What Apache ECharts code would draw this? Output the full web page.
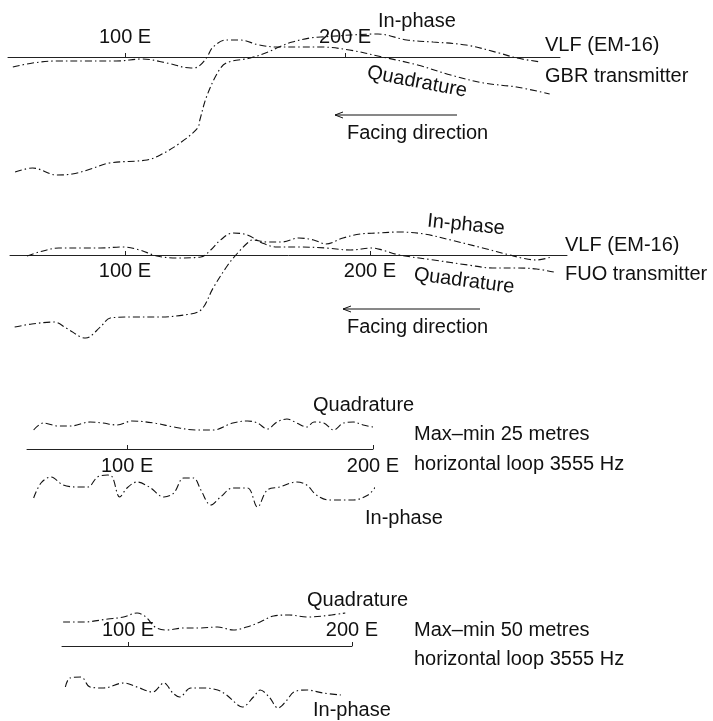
<!DOCTYPE html>
<html>
<head>
<meta charset="utf-8">
<script src="https://cdn.jsdelivr.net/npm/echarts@6/dist/echarts.min.js"></script>
<style>html,body{margin:0;padding:0;background:#fff;}#chart{width:713px;height:721px;}</style>
</head>
<body>
<div id="chart"></div>
<script>
// ---- Data: [station (m E), response (arbitrary %)] ----
// Panel 1: VLF (EM-16), GBR transmitter
const gbrQuadrature = [[49,-5],[58,-3],[69,-2],[81,-2],[96,-2],[108,-1],[119,-3],[130,-5.5],[133,-5],[137,-0.5],[140,5],[146,8.5],[152,8.5],[161,6],[169,5],[180,5],[189,5],[202,3.5],[217,0],[233,-4],[248,-9],[263,-13],[278,-15],[293,-18.5]];
const gbrInphase = [[50,-57.5],[58,-55.5],[69,-59],[76,-58.5],[83,-56.5],[93,-53],[110,-51.5],[116,-49],[125,-43],[133,-35.5],[134,-31.5],[137,-20],[142,-8],[146,-3],[157,-0.5],[165,2.5],[170,5],[176,7.5],[184,9.5],[189,10],[215,11.5],[228,8.5],[240,7.5],[255,6],[270,2],[278,-0.5],[289,-2.5]];
// Panel 2: VLF (EM-16), FUO transmitter
const fuoQuadrature = [[60,-0.5],[65,1.5],[73,3.5],[83,3.5],[90,3.5],[99,4],[106,2.5],[113,-0.5],[121,-1.5],[131,-1],[135,2.5],[139,7.5],[144,11],[150,10],[156,6],[162,4],[171,4],[182,3.5],[192,2.5],[201,3.5],[205,2.5],[212,0],[226,-2.5],[240,-5],[250,-6.5],[260,-6.5],[268,-7],[275,-8.5]];
const fuoInphase = [[55,-36],[62,-34.5],[71,-33.5],[76,-36.5],[82,-41],[84,-41.5],[90,-36],[94,-31.5],[103,-31],[114,-31],[124,-30],[131,-27.5],[136,-16.5],[142,-5],[146,1],[150,6],[152,7.5],[158,6.5],[164,6.5],[171,8.5],[177,7.5],[182,5.5],[189,8.5],[196,10.5],[203,11],[212,11.5],[222,10.5],[233,7.5],[246,3.5],[257,0],[262,-1.5],[268,-2.5],[274,-1]];
// Panel 3: Max-min 25 m horizontal loop 3555 Hz
const mm25Quadrature = [[62,9.5],[66,13],[72,11.5],[77,11.5],[85,13.5],[90,13],[96,12],[102,14],[111,13],[119,11],[128,9.5],[135,9.5],[143,13],[149,14],[153,13],[157,10],[161,13.5],[165,15],[169,13],[173,11],[176,13.5],[180,13],[184,9.5],[188,13],[192,13.5],[196,12],[200,11]];
const mm25Inphase = [[62,-24.5],[65,-17],[69,-14],[74,-18],[80,-19],[84,-19],[88,-14],[92,-13],[94,-14],[97,-24],[100,-19.5],[104,-16.5],[109,-19],[115,-24],[119,-22],[123,-14.5],[127,-14.5],[130,-20.5],[134,-28],[138,-24],[143,-19.5],[149,-19.5],[153,-29],[157,-20.5],[162,-19],[169,-16.5],[173,-18],[177,-23],[182,-25.5],[192,-25.5],[198,-23],[201,-19]];
// Panel 4: Max-min 50 m horizontal loop 3555 Hz
const mm50Quadrature = [[71,12],[80,12],[91,13.5],[98,14.5],[104,16.5],[108,14.5],[112,9.5],[117,8],[125,9],[132,9],[140,9.5],[147,8],[153,9.5],[159,12],[165,15],[172,15.5],[180,14.5],[187,15],[197,16.5]];
const mm50Inphase = [[72,-20.5],[74,-16],[79,-15.5],[83,-20.5],[89,-21],[98,-18.5],[104,-20.5],[111,-23],[116,-18.5],[120,-23.5],[123,-25.5],[128,-21],[134,-21],[140,-22],[144,-24.5],[149,-29.5],[151,-30.5],[156,-25.5],[159,-22],[163,-25.5],[167,-31],[171,-27],[174,-23],[180,-22],[187,-23.5],[195,-24.5]];

// Station axis extents and labelled stations
const stationRanges = [[46.8,297.7],[53.1,280.4],[59.3,200],[70.5,200]];
const labelledStations = [100, 200];
// response range shown inside each grid; the station axis sits on the zero edge
const responseRanges = [[-65,0],[0,15],[0,20],[-35,0]];

// ---- Layout ----
const FONT = '"Liberation Sans", Arial, Helvetica, sans-serif';
const INK = '#111';
const gridBoxes = [
  {left: 8,  width: 552, top: 57,  height: 130},
  {left: 10, width: 557, top: 225, height: 30},
  {left: 27, width: 346, top: 409, height: 40},
  {left: 62, width: 290, top: 646, height: 70}
];
const labelTop = [true, false, false, true];
const labelMargin = [10, 6, 7, 6];

const grids = gridBoxes.map(g => Object.assign({containLabel: false}, g));
const xAxes = stationRanges.map((r, i) => ({
  gridIndex: i, type: 'value', min: r[0], max: r[1],
  position: labelTop[i] ? 'top' : 'bottom',
  axisLine: {show: true, onZero: true, lineStyle: {color: '#222', width: 1}},
  axisTick: {show: true, inside: !labelTop[i], length: 4, customValues: labelledStations, lineStyle: {color: '#222', width: 1}},
  axisLabel: {show: true, customValues: labelledStations, formatter: v => v + ' E', fontSize: 20, color: INK, fontFamily: FONT, margin: labelMargin[i]},
  splitLine: {show: false}
}));
const yAxes = responseRanges.map((r, i) => ({gridIndex: i, type: 'value', min: r[0], max: r[1], show: false}));

const profiles = [gbrQuadrature, gbrInphase, fuoQuadrature, fuoInphase, mm25Quadrature, mm25Inphase, mm50Quadrature, mm50Inphase];
const series = profiles.map((d, k) => ({
  type: 'line', xAxisIndex: Math.floor(k / 2), yAxisIndex: Math.floor(k / 2),
  data: d, symbol: 'none', smooth: 0.35, silent: true, clip: false,
  lineStyle: {color: INK, width: 1.1, type: [7, 3, 1.5, 3]}
}));

function txt(text, x, y, opts) {
  opts = opts || {};
  return {
    type: 'text', x: x, y: y, rotation: opts.rot || 0, silent: true,
    style: {text: text, fill: INK, font: '20px ' + FONT, textAlign: opts.align || 'left', textVerticalAlign: 'middle'}
  };
}
function arrow(x1, x2, y) {
  return [
    {type: 'line', silent: true, shape: {x1: x1, y1: y, x2: x2, y2: y}, style: {stroke: INK, lineWidth: 1}},
    {type: 'polyline', silent: true, shape: {points: [[x1 + 8, y - 3], [x1, y], [x1 + 8, y + 3]]}, style: {stroke: INK, lineWidth: 1, fill: null}}
  ];
}

const graphics = [
  // Panel 1
  txt('In-phase', 378, 21),
  txt('VLF (EM-16)', 545, 45),
  txt('GBR transmitter', 545, 76),
  txt('Quadrature', 417, 82, {align: 'center', rot: -0.19}),
  ...arrow(335, 457, 115),
  txt('Facing direction', 347, 133),
  // Panel 2
  txt('In-phase', 466, 225, {align: 'center', rot: -0.1}),
  txt('Quadrature', 464, 281, {align: 'center', rot: -0.13}),
  txt('VLF (EM-16)', 565, 245),
  txt('FUO transmitter', 565, 274),
  ...arrow(343, 480, 309),
  txt('Facing direction', 347, 327),
  // Panel 3
  txt('Quadrature', 313, 405),
  txt('Max\u2013min 25 metres', 414, 434),
  txt('horizontal loop 3555 Hz', 414, 464),
  txt('In-phase', 365, 518),
  // Panel 4
  txt('Quadrature', 307, 600),
  txt('Max\u2013min 50 metres', 414, 630),
  txt('horizontal loop 3555 Hz', 414, 659),
  txt('In-phase', 313, 710)
];

const chart = echarts.init(document.getElementById('chart'), null, {renderer: 'canvas'});
chart.setOption({
  animation: false,
  backgroundColor: '#fff',
  grid: grids,
  xAxis: xAxes,
  yAxis: yAxes,
  series: series,
  graphic: {elements: graphics}
});
</script>
</body>
</html>
